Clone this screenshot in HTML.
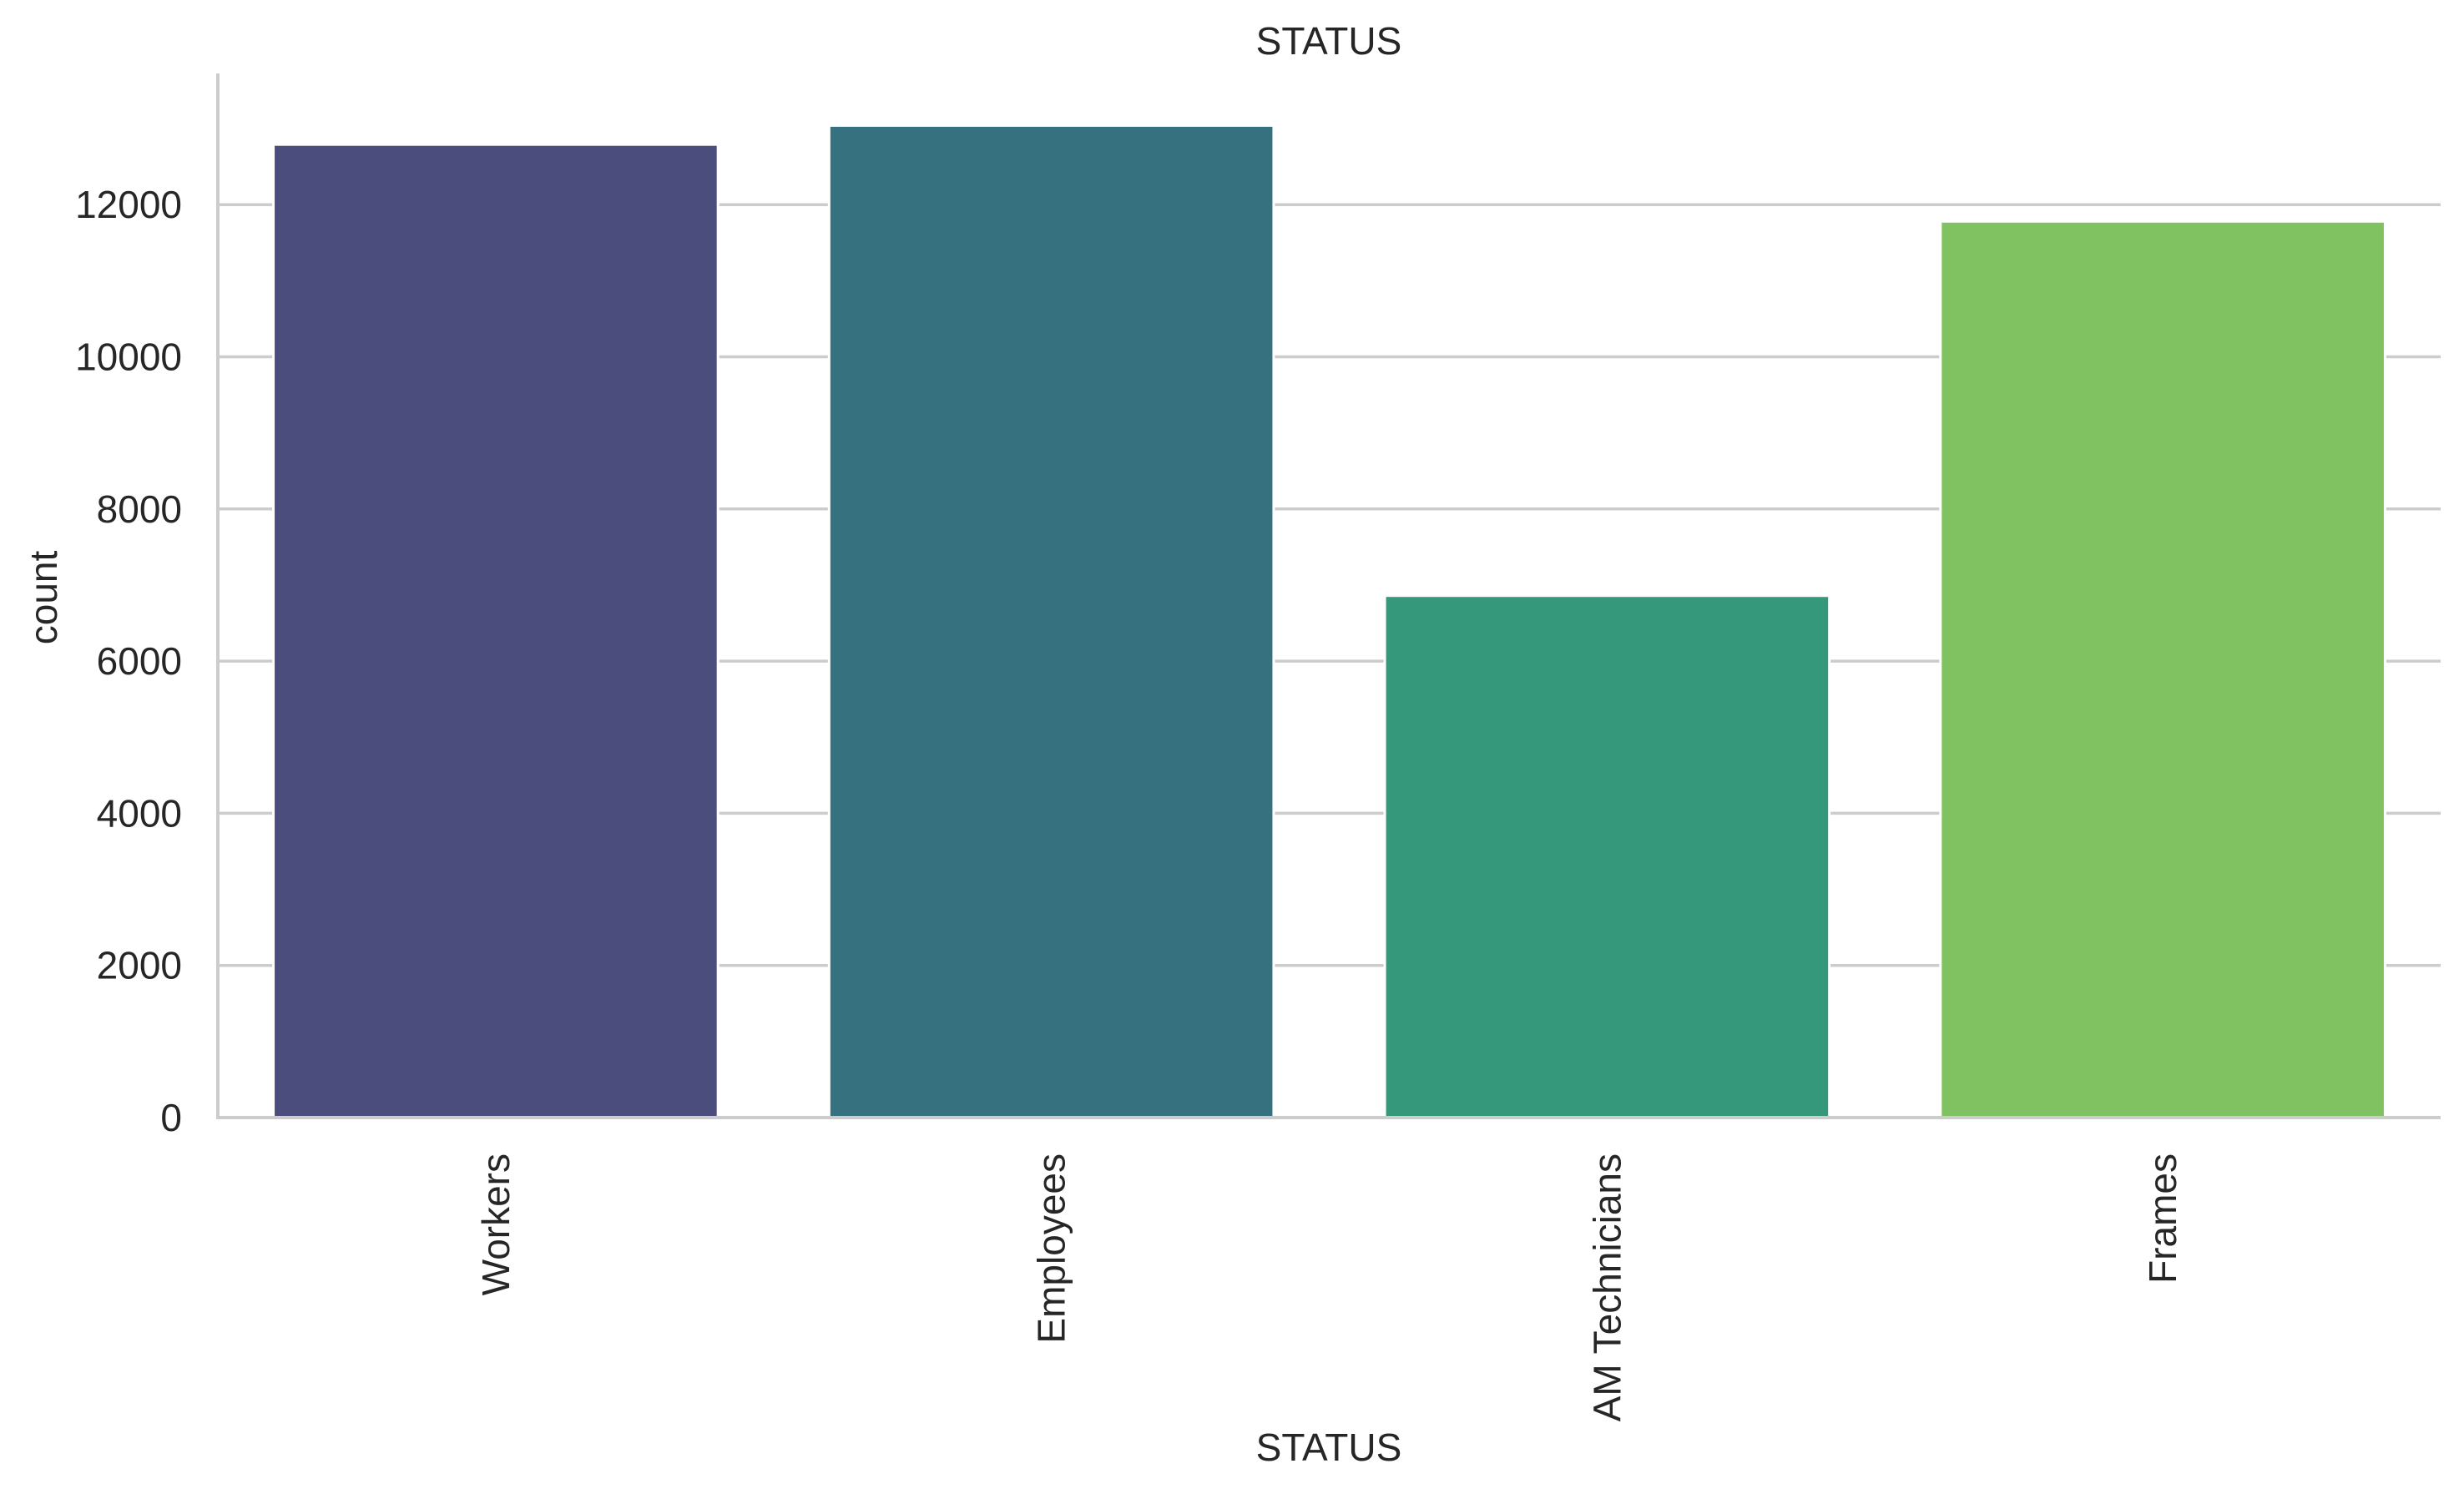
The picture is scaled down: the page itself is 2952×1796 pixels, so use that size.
<!DOCTYPE html>
<html><head><meta charset="utf-8"><style>
body{margin:0;background:#fff}
svg text{font-family:"Liberation Sans",Arial,sans-serif;fill:#262626}
</style></head><body>
<svg id="chart" width="2952" height="1791" viewBox="0 0 2952 1791" xmlns="http://www.w3.org/2000/svg">
<g id="grid"></g>
<g id="bars"></g>
<g id="axes"></g>
<text x="1592" y="65" text-anchor="middle" font-size="46">STATUS</text>
<text x="1592" y="1750" text-anchor="middle" font-size="46">STATUS</text>
<text x="0" y="0" transform="translate(68,716) rotate(-90)" text-anchor="middle" font-size="46">count</text>
</svg>
<script>
const categories = ["Workers", "Employees", "AM Technicians", "Frames"];
const counts = [12790, 13040, 6860, 11780];
const colors = ["#4b4d7d", "#367180", "#35987b", "#80c162"];
const yTicks = [0, 2000, 4000, 6000, 8000, 10000, 12000];

const NS = "http://www.w3.org/2000/svg";
const plotLeft = 261, plotRight = 2924, plotBottom = 1339, plotTop = 88;
const pxPer = 182.3 / 2000;
function yScale(v){ return plotBottom - v * pxPer; }
const band = (plotRight - plotLeft) / categories.length;
function xCenter(i){ return plotLeft + band * (i + 0.5); }
function mk(tag, attrs, parent){ const e = document.createElementNS(NS, tag); for (const k in attrs) e.setAttribute(k, attrs[k]); parent.appendChild(e); return e; }

const gridG = document.getElementById('grid');
const barsG = document.getElementById('bars');
const axesG = document.getElementById('axes');

yTicks.forEach(function(t){
  const y = yScale(t);
  if (t > 0) {
    const l = mk('line', {x1: plotLeft, x2: plotRight, y1: y, y2: y, stroke: '#cccccc', 'stroke-width': 3.5}, gridG);
    
    
  }
  const tx = mk('text', {x: 218, y: y + 16, 'text-anchor': 'end', 'font-size': 46}, axesG);
  tx.textContent = t;
  
  
});

categories.forEach(function(c, i){
  const w = band * 0.8;
  const x = xCenter(i) - w / 2;
  const y = yScale(counts[i]);
  const r = mk('rect', {x: x, y: y, width: w, height: plotBottom - y, fill: colors[i], stroke: '#ffffff', 'stroke-width': 3}, barsG);
  
  
  const cx = xCenter(i) + 16;
  const t = mk('text', {x: 0, y: 0, 'text-anchor': 'end', 'font-size': 46, transform: 'translate(' + cx + ',1382) rotate(-90)'}, axesG);
  t.textContent = c;
  
  
});

const ys = mk('line', {x1: plotLeft, x2: plotLeft, y1: plotTop, y2: plotBottom + 2, stroke: '#cccccc', 'stroke-width': 4}, axesG);


const xs = mk('line', {x1: plotLeft - 2, x2: plotRight, y1: plotBottom, y2: plotBottom, stroke: '#cccccc', 'stroke-width': 4}, axesG);


</script>
</body></html>
